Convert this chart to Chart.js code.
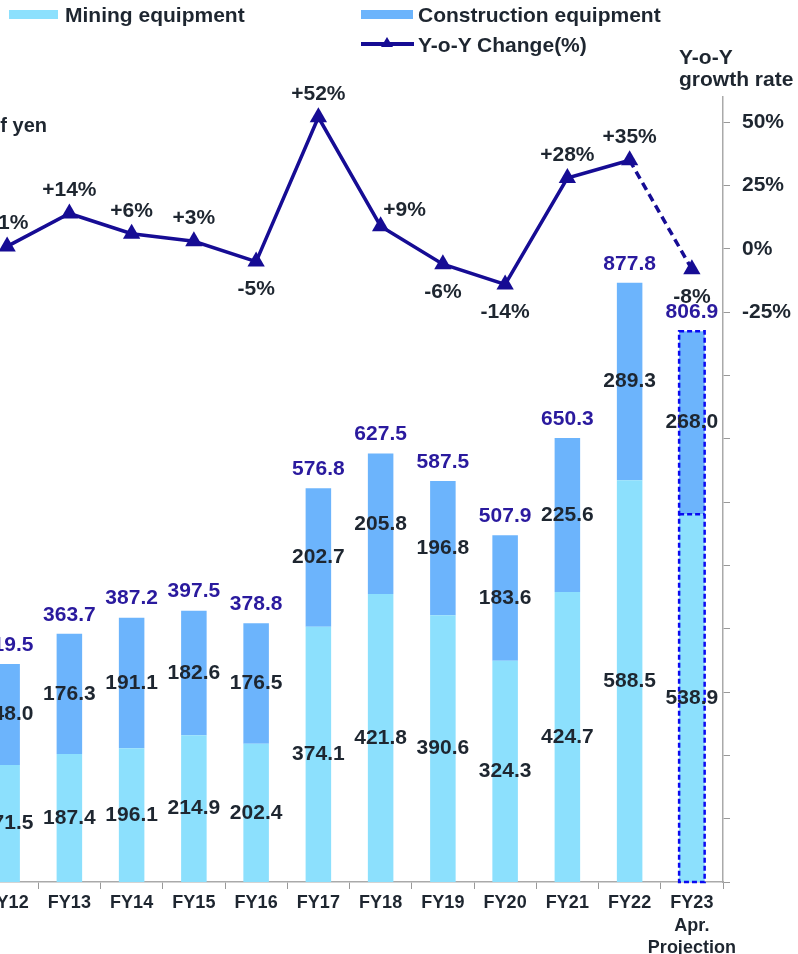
<!DOCTYPE html>
<html>
<head>
<meta charset="utf-8">
<script src="https://cdn.jsdelivr.net/npm/chart.js@4.4.1/dist/chart.umd.min.js"></script>
<style>
  html, body { margin: 0; padding: 0; background: #fff; overflow: hidden; }
  #wrap { position: relative; width: 798px; height: 954px; overflow: hidden;
          font-family: "Liberation Sans", Arial, sans-serif; font-weight: bold; color: #1e2630; }
  #box { position: absolute; left: -34px; top: 0; width: 834px; height: 954px; }
  .txt { position: absolute; font-size: 21px; line-height: 24px; white-space: nowrap; }
  .sw { position: absolute; }
</style>
</head>
<body>
<div id="wrap">
  <div id="box"><canvas id="chart"></canvas></div>

  <div class="sw" style="left:9px;top:10px;width:49px;height:9px;background:#8ce0fd"></div>
  <div class="txt" style="left:65px;top:3px">Mining equipment</div>
  <div class="sw" style="left:361px;top:10px;width:52px;height:9px;background:#6cb4fc"></div>
  <div class="txt" style="left:418px;top:3px">Construction equipment</div>
  <div class="sw" style="left:361px;top:42px;width:53px;height:4px;background:#160c94"></div>
  <div class="sw" style="left:381px;top:37px;width:0;height:0;border-left:6px solid transparent;border-right:6px solid transparent;border-bottom:10px solid #160c94"></div>
  <div class="txt" style="left:418px;top:33px">Y-o-Y Change(%)</div>

  <div class="txt" style="left:679px;top:46px;line-height:22px">Y-o-Y<br>growth rate</div>
  <div class="txt" style="right:751px;top:113px;font-size:20px">Billions of yen</div>
</div>

<script>
const categories = ['FY12', 'FY13', 'FY14', 'FY15', 'FY16', 'FY17', 'FY18', 'FY19', 'FY20', 'FY21', 'FY22', ['FY23', 'Apr.', 'Projection']];
const miningEquipment = [171.5, 187.4, 196.1, 214.9, 202.4, 374.1, 421.8, 390.6, 324.3, 424.7, 588.5, 538.9];
const constructionEquipment = [148.0, 176.3, 191.1, 182.6, 176.5, 202.7, 205.8, 196.8, 183.6, 225.6, 289.3, 268.0];
const totals = [319.5, 363.7, 387.2, 397.5, 378.8, 576.8, 627.5, 587.5, 507.9, 650.3, 877.8, 806.9];
const yoyChange = [1, 14, 6, 3, -5, 52, 9, -6, -14, 28, 35, -8];
const yoyTickLabels = [50, 25, 0, -25];

const FONT = '"Liberation Sans", Arial, sans-serif';
const TEXT = '#1e2630';
const NAVY = '#160c94';
const PROJ = categories.length - 1;

// value labels, totals, line labels and the dashed projection outline
const labelPlugin = {
  id: 'labels',
  afterDatasetsDraw(chart) {
    const ctx = chart.ctx;
    const mining = chart.getDatasetMeta(0).data;
    const constr = chart.getDatasetMeta(1).data;

    // dashed outline round the projection bar
    const b0 = mining[PROJ], b1 = constr[PROJ];
    const w = b0.width;
    const top = Math.min(b1.y, b1.base), bottom = Math.max(b0.y, b0.base);
    ctx.save();
    ctx.strokeStyle = '#0a0af0';
    ctx.lineWidth = 2.5;
    ctx.setLineDash([5, 3]);
    ctx.strokeRect(b1.x - w / 2, top, w, bottom - top);
    ctx.beginPath();
    ctx.moveTo(b0.x - w / 2, b0.y);
    ctx.lineTo(b0.x + w / 2, b0.y);
    ctx.stroke();
    ctx.restore();

    ctx.save();
    ctx.font = 'bold 21px ' + FONT;
    ctx.textAlign = 'center';
    ctx.textBaseline = 'middle';

    ctx.fillStyle = TEXT;
    mining.forEach((bar, i) => ctx.fillText(miningEquipment[i].toFixed(1), bar.x, (bar.y + bar.base) / 2));
    constr.forEach((bar, i) => ctx.fillText(constructionEquipment[i].toFixed(1), bar.x, (bar.y + bar.base) / 2));

    ctx.fillStyle = '#2a1a9e';
    constr.forEach((bar, i) => ctx.fillText(totals[i].toFixed(1), bar.x, bar.y - 19));

    ctx.fillStyle = TEXT;
    chart.getDatasetMeta(2).data.forEach((pt, i) => {
      const v = yoyChange[i];
      const txt = (v > 0 ? '+' : '') + v + '%';
      let x = pt.x, y = v >= 0 ? pt.y - 23 : pt.y + 28;
      if (i === 6) { x += 24; y = pt.y - 16; } // FY18 label sits to the right of the line
      ctx.fillText(txt, x, y);
    });
    ctx.restore();
  }
};

new Chart(document.getElementById('chart'), {
  type: 'bar',
  data: {
    labels: categories,
    datasets: [
      { label: 'Mining equipment', data: miningEquipment, backgroundColor: '#8ce0fd', yAxisID: 'y', order: 1 },
      { label: 'Construction equipment', data: constructionEquipment, backgroundColor: '#6cb4fc', yAxisID: 'y', order: 1 },
      {
        type: 'line', label: 'Y-o-Y Change(%)', data: yoyChange, yAxisID: 'y2', order: 0,
        borderColor: NAVY, borderWidth: 3.5, tension: 0,
        pointStyle: 'triangle', pointRadius: 10, pointBackgroundColor: NAVY, pointBorderWidth: 0,
        segment: { borderDash: c => c.p1DataIndex === PROJ ? [8, 5] : undefined }
      }
    ]
  },
  options: {
    responsive: true,
    maintainAspectRatio: false,
    animation: false,
    layout: { padding: { top: 97, left: 0, right: 0, bottom: 0 } },
    datasets: { bar: { categoryPercentage: 1, barPercentage: 0.41 } },
    plugins: { legend: { display: false }, tooltip: { enabled: false } },
    scales: {
      x: {
        stacked: true,
        grid: { offset: true, drawOnChartArea: false, tickLength: 7, color: '#999' },
        border: { color: '#aaa', width: 1.5 },
        ticks: { color: TEXT, font: { family: FONT, size: 18, weight: 'bold', lineHeight: 1.25 }, padding: 3, maxRotation: 0, autoSkip: false },
        afterFit(s) { s.height = 72; }
      },
      y: { stacked: true, display: false, min: 0, max: 1150 },
      y2: {
        position: 'right', min: -250, max: 60,
        grid: { drawOnChartArea: false, tickLength: 7, color: '#999' },
        border: { color: '#aaa', width: 1.5 },
        ticks: {
          stepSize: 25, padding: 12, color: TEXT,
          font: { family: FONT, size: 21, weight: 'bold' },
          callback: v => yoyTickLabels.includes(v) ? v + '%' : ''
        },
        afterBuildTicks(s) { s.ticks = s.ticks.filter(t => t.value % 25 === 0); },
        afterFit(s) { s.width = 77; }
      }
    }
  },
  plugins: [labelPlugin]
});
</script>
</body>
</html>
